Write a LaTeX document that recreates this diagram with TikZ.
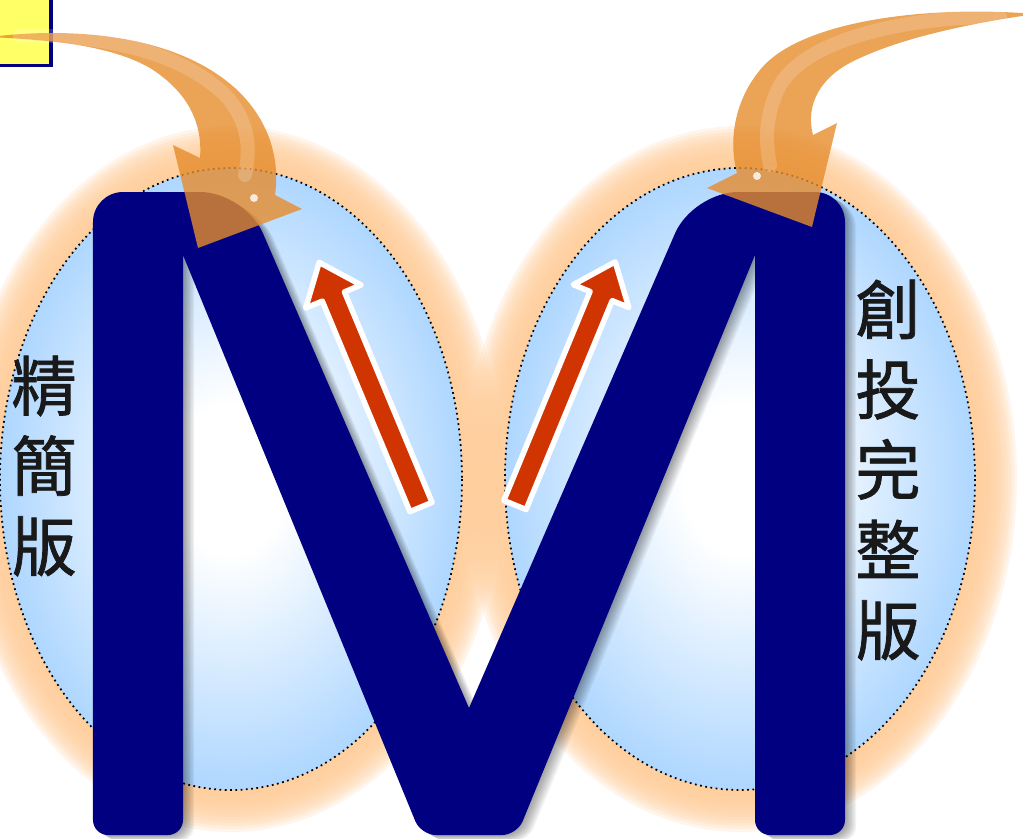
\documentclass[tikz,border=0pt]{standalone}
\usepackage{fontspec}
\newfontfamily\cjk[FakeBold=1.2]{Noto Sans CJK TC}
\usepackage{tikz}
\usetikzlibrary{arrows.meta}

\definecolor{navyM}{RGB}{0,0,128}
\definecolor{bubble}{RGB}{153,204,255}
\definecolor{peach}{RGB}{255,204,153}
\definecolor{brick}{RGB}{208,52,0}
\definecolor{amber}{RGB}{230,140,44}
\definecolor{tagyellow}{RGB}{255,255,102}

\pgfdeclareradialshading{bubbleshade}{\pgfpoint{0bp}{0bp}}{color(0bp)=(white); color(6bp)=(white); color(30bp)=(bubble); color(50bp)=(bubble)}

% outline of the big letter, pixel units
\newcommand{\emletter}{(93,500) [rounded corners=3mm] -- (93,192) [rounded corners=4.5mm] -- (245,192) [sharp corners] -- (469,708) [rounded corners=4.5mm] -- (693,192) [rounded corners=3mm] -- (845,192) [rounded corners=1.5mm] -- (845,835) -- (755,835) [sharp corners] -- (755,255) [rounded corners=1.5mm] -- (517,835) -- (421,835) [sharp corners] -- (183,255) [rounded corners=1.5mm] -- (183,835) -- (93,835) -- cycle}

\tikzset{
  glow/.style={fill=peach, opacity=0.19},
  bubbleedge/.style={draw=black, densely dotted, line width=0.5pt},
  redarrow/.style={fill=brick, draw=white, line width=0.55mm, line join=round},
  bendarrow/.style={fill=amber, fill opacity=0.8},
  vtext/.style={font=\cjk\fontsize{18.5pt}{22.8pt}\selectfont, align=center, inner sep=0pt, text=black!90}
}

\begin{document}
\begin{tikzpicture}[x=0.01cm, y=-0.01cm]
\useasboundingbox (0,0) rectangle (1023,838);
\clip (0,0) rectangle (1023,838);

% corner tag
\draw[navyM, line width=0.3mm, fill=tagyellow] (-20,-20) rectangle (51,65);

% soft halo round both bubbles
\foreach \g in {1,...,14} {
  \fill[glow] (231,479) ellipse [x radius={231+3*\g}, y radius={311+3*\g}];
  \fill[glow] (740,479) ellipse [x radius={235+3*\g}, y radius={311+3*\g}];
}

% bubbles
\shade[shading=bubbleshade] (231,479) ellipse [x radius=231, y radius=311];
\shade[shading=bubbleshade] (740,479) ellipse [x radius=235, y radius=311];
\draw[bubbleedge] (231,479) ellipse [x radius=231, y radius=311];
\draw[bubbleedge] (740,479) ellipse [x radius=235, y radius=311];

% letter with its shadow
\foreach \d in {1,...,8} {
  \fill[black, opacity=0.05, shift={(1.4*\d,0.8*\d)}] \emletter;
}
\fill[navyM] \emletter;

% red arrows
\begin{scope}[shift={(421,507)}, rotate=112.6]
  \filldraw[redarrow] (0,-12) -- (228,-12) -- (228,-30) -- (265,0) -- (228,30) -- (228,12) -- (0,12) -- cycle;
\end{scope}
\begin{scope}[shift={(515,505)}, rotate=67.6]
  \filldraw[redarrow] (0,-12) -- (226,-12) -- (226,-30) -- (263,0) -- (226,30) -- (226,12) -- (0,12) -- cycle;
\end{scope}

% labels
\node[vtext] (short) at (44,466) {精\\簡\\版};
\node[vtext] (full) at (888,470) {創\\投\\完\\整\\版};

% curved arrows from the top
\fill[bendarrow] (-10,37) .. controls (60,28) and (170,30) .. (235,88) .. controls (270,120) and (280,160) .. (275,195) -- (302,209) -- (198,248) -- (173,145) -- (200,158) .. controls (203,120) and (185,90) .. (150,68) .. controls (110,45) and (50,40) .. (-10,37) -- cycle;
\fill[bendarrow] (1035,14) .. controls (930,5) and (800,20) .. (760,70) .. controls (735,100) and (728,140) .. (737,173) -- (707,188) -- (812,227) -- (837,123) -- (813,135) .. controls (805,105) and (820,75) .. (860,58) .. controls (910,35) and (980,22) .. (1035,14) -- cycle;
\draw[white, opacity=0.18, line width=1.4mm, line cap=round] (20,36) .. controls (90,34) and (180,48) .. (228,98) .. controls (250,125) and (250,150) .. (245,175);
\draw[white, opacity=0.18, line width=1.4mm, line cap=round] (1000,17) .. controls (920,16) and (810,35) .. (780,85) .. controls (765,115) and (765,140) .. (770,165);
\fill[white, opacity=0.8] (254,198) circle (4);
\fill[white, opacity=0.8] (757,176) circle (4);
\end{tikzpicture}
\end{document}
